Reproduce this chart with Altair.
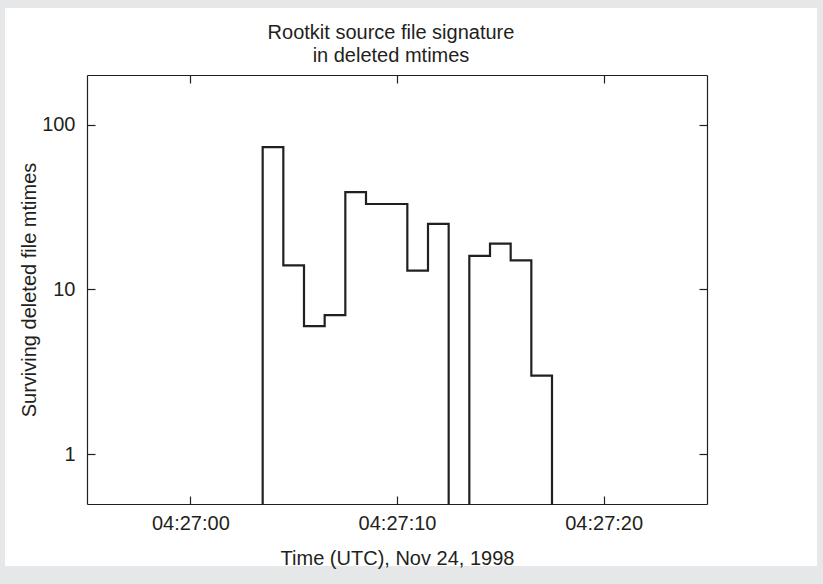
import altair as alt
import pandas as pd

# ---- data ----
seconds = [3, 4, 5, 6, 7, 8, 9, 10, 11, 12, 13, 14, 15, 16, 17, 18]  # 04:27:SS
counts = [0, 73, 14, 6, 7, 39, 33, 33, 13, 25, 0, 16, 19, 15, 3, 0]
x_tick_seconds = [0, 10, 20]          # 04:27:00, 04:27:10, 04:27:20
y_ticks = [1, 10, 100]
title_lines = ["Rootkit source file signature", "in deleted mtimes"]
x_title = "Time (UTC), Nov 24, 1998"
y_title = "Surviving deleted file mtimes"

df = pd.DataFrame({
    "t": [f"1998-11-24T04:27:{s:02d}Z" for s in seconds],
    "count": counts,
})

W, H = 620, 429
FONT = "Liberation Sans"
INK = "#231f20"


def dt(sec):
    m, s = divmod(27 * 60 + sec, 60)
    return alt.DateTime(year=1998, month=11, date=24, hours=4, minutes=m, seconds=s, utc=True)


x_scale = alt.Scale(type="utc", domain=[dt(-5), dt(25)])
y_scale = alt.Scale(type="log", domain=[0.5, 200])
x_vals = [dt(s) for s in x_tick_seconds]

base = alt.Chart(df).transform_calculate(
    plotcount="max(datum.count, 0.05)"
)

# main step outline with labelled bottom/left axes
main = base.mark_line(interpolate="step", clip=True, color=INK, strokeWidth=2.2).encode(
    x=alt.X("t:T", scale=x_scale,
            axis=alt.Axis(orient="bottom", values=x_vals, format="%H:%M:%S",
                          ticks=False, tickSize=0, grid=False, domain=True,
                          domainColor=INK, domainWidth=1.2,
                          labelFont=FONT, labelFontSize=20, labelColor=INK, labelPadding=9,
                          title=x_title, titleFont=FONT, titleFontSize=20,
                          titleFontWeight="normal", titleColor=INK, titlePadding=15,
                          zindex=1)),
    y=alt.Y("plotcount:Q", scale=y_scale,
            axis=alt.Axis(orient="left", values=y_ticks, format="d",
                          ticks=False, tickSize=0, grid=False, domain=True,
                          domainColor=INK, domainWidth=1.2,
                          labelFont=FONT, labelFontSize=20, labelColor=INK, labelPadding=12,
                          title=y_title, titleFont=FONT, titleFontSize=20,
                          titleFontWeight="normal", titleColor=INK, titlePadding=2,
                          zindex=1)),
)

# inward ticks on bottom and left edges
ticks_bl = base.mark_line(interpolate="step", strokeOpacity=0).encode(
    x=alt.X("t:T", scale=x_scale,
            axis=alt.Axis(orient="top", offset=-H, values=x_vals, labels=False,
                          domain=False, grid=False, ticks=True, tickSize=8,
                          tickColor=INK, tickWidth=1.2, title=None, zindex=1)),
    y=alt.Y("plotcount:Q", scale=y_scale,
            axis=alt.Axis(orient="right", offset=-W, values=y_ticks, labels=False,
                          domain=False, grid=False, ticks=True, tickSize=8,
                          tickColor=INK, tickWidth=1.2, title=None, zindex=1)),
)

# inward ticks plus frame on top and right edges
ticks_tr = base.mark_line(interpolate="step", strokeOpacity=0).encode(
    x=alt.X("t:T", scale=x_scale,
            axis=alt.Axis(orient="bottom", offset=-H, values=x_vals, labels=False,
                          domain=True, domainColor=INK, domainWidth=1.2,
                          grid=False, ticks=True, tickSize=8,
                          tickColor=INK, tickWidth=1.2, title=None, zindex=1)),
    y=alt.Y("plotcount:Q", scale=y_scale,
            axis=alt.Axis(orient="left", offset=-W, values=y_ticks, labels=False,
                          domain=True, domainColor=INK, domainWidth=1.2,
                          grid=False, ticks=True, tickSize=8,
                          tickColor=INK, tickWidth=1.2, title=None, zindex=1)),
)

# two-line chart title
title = alt.Chart(pd.DataFrame({"k": [0]})).mark_text(
    text=title_lines, font=FONT, fontSize=20, color=INK, align="center",
    baseline="middle", lineHeight=23,
).encode(x=alt.value(304), y=alt.value(-42))

# light grey page border around the white panel (decoration)
border = alt.Chart(pd.DataFrame({"k": [0]})).mark_rect(
    fill=None, stroke="#e6e7e8", strokeWidth=40, clip=False
).encode(
    x=alt.value(5 - 20 - 87),
    x2=alt.value(817 + 20 - 87),
    y=alt.value(8 - 20 - 75),
    y2=alt.value(566 + 20 - 75),
)

chart = alt.layer(border, title, main, ticks_bl, ticks_tr).resolve_axis(
    x="independent", y="independent"
).properties(
    width=W, height=H,
    autosize=alt.AutoSizeParams(type="none"),
    padding={"left": 87, "top": 75, "right": 823 - 87 - W, "bottom": 584 - 75 - H},
    background="white",
).configure_view(stroke=None)

chart.save("out.html", embed_options={"renderer": "svg", "actions": False})
